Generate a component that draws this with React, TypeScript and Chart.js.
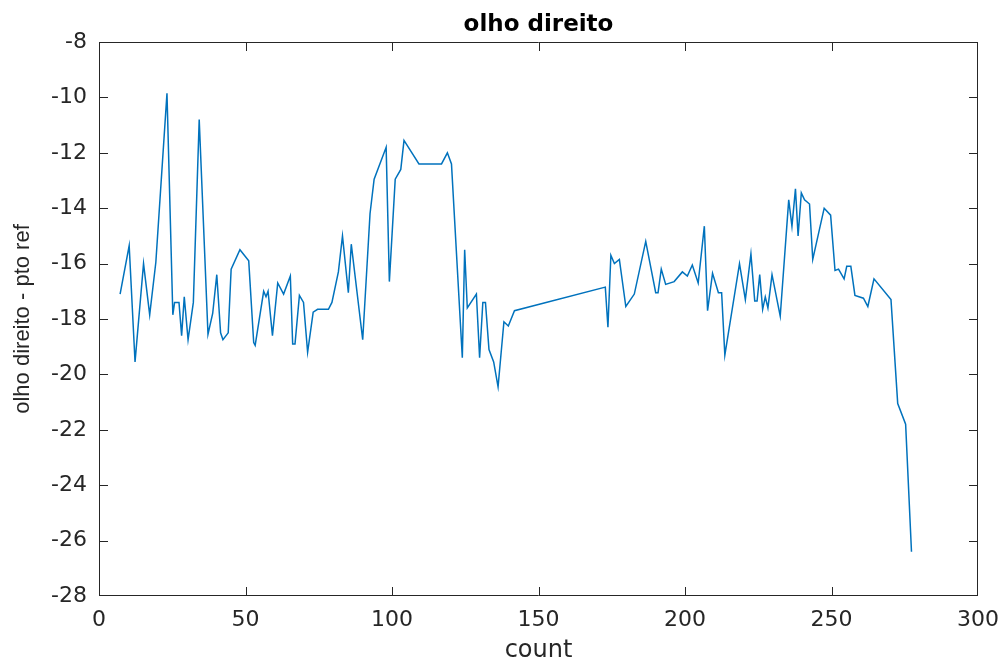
import React, { useEffect, useRef } from "react";
import { Chart, registerables } from "chart.js";

Chart.register(...registerables);

// ---- data ----
const counts = [
  7.2, 10.3, 12.3, 15.2, 17.3, 19.4, 23.2, 25.2, 25.8, 27.3, 28.2, 29.1, 30.4, 32.2, 34.2,
  37.2, 38.8, 40.2, 41.5, 42.3, 44.1, 45.1, 48.1, 51.1, 52.8, 53.3, 56.2, 57.0, 57.7, 59.2,
  61.0, 63.0, 65.3, 66.1, 66.9, 68.4, 69.8, 71.2, 73.1, 74.6, 78.3, 79.5, 81.7, 83.1, 85.1,
  86.1, 90.0, 92.5, 93.9, 98.0, 99.1, 101.1, 103.0, 104.1, 109.2, 116.9, 118.9, 120.3, 124.0,
  124.8, 125.7, 128.8, 129.9, 131.0, 131.9, 133.1, 134.7, 136.2, 138.2, 139.7, 141.8, 172.8,
  173.7, 174.7, 175.9, 177.6, 179.8, 182.7, 186.6, 190.0, 190.8, 191.9, 193.4, 196.3, 199.1,
  200.8, 202.5, 204.5, 206.6, 207.7, 209.4, 211.4, 212.5, 213.6, 218.6, 220.6, 222.5, 223.8,
  224.6, 225.5, 226.5, 227.4, 228.3, 229.7, 232.5, 235.4, 236.5, 237.7, 238.6, 239.7, 240.8,
  242.5, 243.6, 245.6, 247.5, 249.7, 251.2, 252.4, 254.3, 255.2, 256.6, 258.0, 260.9, 262.4,
  264.5, 270.3, 272.6, 275.3, 277.3,
];

const values = [
  -17.1, -15.35, -19.55, -16.0, -17.85, -15.95, -9.85, -17.85, -17.4, -17.4, -18.6, -17.2, -18.75, -17.4, -10.8,
  -18.55, -17.8, -16.4, -18.5, -18.75, -18.5, -16.2, -15.5, -15.9, -18.85, -18.95, -17.0, -17.2, -17.0, -18.6,
  -16.7, -17.1, -16.45, -18.9, -18.9, -17.15, -17.4, -19.2, -17.75, -17.65, -17.65, -17.4, -16.3, -15.0, -17.05,
  -15.3, -18.75, -14.2, -12.95, -11.8, -16.65, -12.95, -12.6, -11.55, -12.4, -12.4, -12.0, -12.4, -19.4,
  -15.5, -17.6, -17.1, -19.4, -17.4, -17.4, -19.1, -19.55, -20.45, -18.1, -18.25, -17.7, -16.85,
  -18.3, -15.7, -16.0, -15.85, -17.55, -17.1, -15.2, -17.05, -17.05, -16.2, -16.75, -16.65, -16.3,
  -16.45, -16.05, -16.7, -14.65, -17.7, -16.35, -17.05, -17.05, -19.3, -16.0, -17.3, -15.65, -17.35,
  -17.35, -16.4, -17.65, -17.2, -17.6, -16.4, -17.9, -13.7, -14.65, -13.3, -15.0, -13.45, -13.7,
  -13.85, -15.85, -14.9, -14.0, -14.25, -16.25, -16.2, -16.55, -16.1, -16.1, -17.15, -17.25, -17.55,
  -16.55, -17.3, -21.05, -21.8, -26.4,
];

const xTickValues = [0, 50, 100, 150, 200, 250, 300];
const yTickValues = [-28, -26, -24, -22, -20, -18, -16, -14, -12, -10, -8];

const chartTitle = "olho direito";
const xAxisLabel = "count";
const yAxisLabel = "olho direito - pto ref";

const AXIS_COLOR = "#262626";
const LINE_COLOR = "#0072BD";

const boxPlugin = {
  id: "matlabBox",
  afterDatasetsDraw(chart: any) {
    const { ctx, chartArea: a, scales } = chart;
    const xs = scales.x;
    const ys = scales.y;
    const L = Math.round(a.left);
    const R = Math.round(a.right);
    const T = Math.round(a.top);
    const B = Math.round(a.bottom);
    const tick = 9;
    ctx.save();
    ctx.strokeStyle = AXIS_COLOR;
    ctx.lineWidth = 1;
    ctx.beginPath();
    ctx.rect(L + 0.5, T + 0.5, R - L - 1, B - T - 1);
    for (const v of xTickValues) {
      const px = Math.min(Math.round(xs.getPixelForValue(v)), R - 1) + 0.5;
      ctx.moveTo(px, B);
      ctx.lineTo(px, B - tick);
      ctx.moveTo(px, T);
      ctx.lineTo(px, T + tick);
    }
    for (const v of yTickValues) {
      const py = Math.min(Math.round(ys.getPixelForValue(v)), B - 1) + 0.5;
      ctx.moveTo(L, py);
      ctx.lineTo(L + tick, py);
      ctx.moveTo(R, py);
      ctx.lineTo(R - tick, py);
    }
    ctx.stroke();
    ctx.restore();
  },
};

export default function App() {
  const canvasRef = useRef<HTMLCanvasElement | null>(null);

  useEffect(() => {
    document.body.style.margin = "0";
    const canvas = canvasRef.current;
    if (!canvas) return;
    const points = counts.map((c, i) => ({ x: c, y: values[i] }));
    const chart = new Chart(canvas, {
      type: "line",
      data: {
        datasets: [
          {
            data: points,
            borderColor: LINE_COLOR,
            borderWidth: 1.5,
            pointRadius: 0,
            tension: 0,
            fill: false,
          },
        ],
      },
      options: {
        responsive: false,
        animation: false,
        devicePixelRatio: 1,
        layout: { padding: { left: 0, right: 23, top: 0, bottom: 0 } },
        plugins: {
          legend: { display: false },
          tooltip: { enabled: false },
          title: {
            display: true,
            text: chartTitle,
            fullSize: false,
            color: "#000",
            font: { family: "DejaVu Sans", size: 23, weight: "bold", lineHeight: 1 },
            padding: { top: 14, bottom: 5 },
          },
        },
        scales: {
          x: {
            type: "linear",
            min: 0,
            max: 300,
            afterBuildTicks: (s: any) => {
              s.ticks = xTickValues.map((v) => ({ value: v }));
            },
            afterFit: (s: any) => {
              s.height = 64;
              s.paddingLeft = 0;
              s.paddingRight = 0;
            },
            grid: { display: false, drawTicks: false },
            border: { display: false },
            ticks: {
              color: AXIS_COLOR,
              padding: 11,
              maxRotation: 0,
              font: { family: "DejaVu Sans", size: 22, lineHeight: 1.2 },
            },
            title: {
              display: true,
              text: xAxisLabel,
              color: AXIS_COLOR,
              font: { family: "DejaVu Sans", size: 24, lineHeight: 0.75 },
              padding: { top: 0, bottom: 0 },
            },
          },
          y: {
            type: "linear",
            min: -28,
            max: -8,
            afterBuildTicks: (s: any) => {
              s.ticks = yTickValues.map((v) => ({ value: v }));
            },
            afterFit: (s: any) => {
              s.width = 99;
              s.paddingTop = 0;
              s.paddingBottom = 0;
            },
            grid: { display: false, drawTicks: false },
            border: { display: false },
            ticks: {
              color: AXIS_COLOR,
              padding: 12,
              font: { family: "DejaVu Sans", size: 22, lineHeight: 1.2 },
            },
            title: {
              display: true,
              text: yAxisLabel,
              color: AXIS_COLOR,
              font: { family: "Liberation Sans", size: 22, lineHeight: 1 },
              padding: { top: 11.6, bottom: 0 },
            },
          },
        },
      },
      plugins: [boxPlugin],
    } as any);
    return () => chart.destroy();
  }, []);

  return (
    <div style={{ width: 1001, height: 660, background: "#fff" }}>
      <canvas ref={canvasRef} width={1001} height={660} />
    </div>
  );
}
